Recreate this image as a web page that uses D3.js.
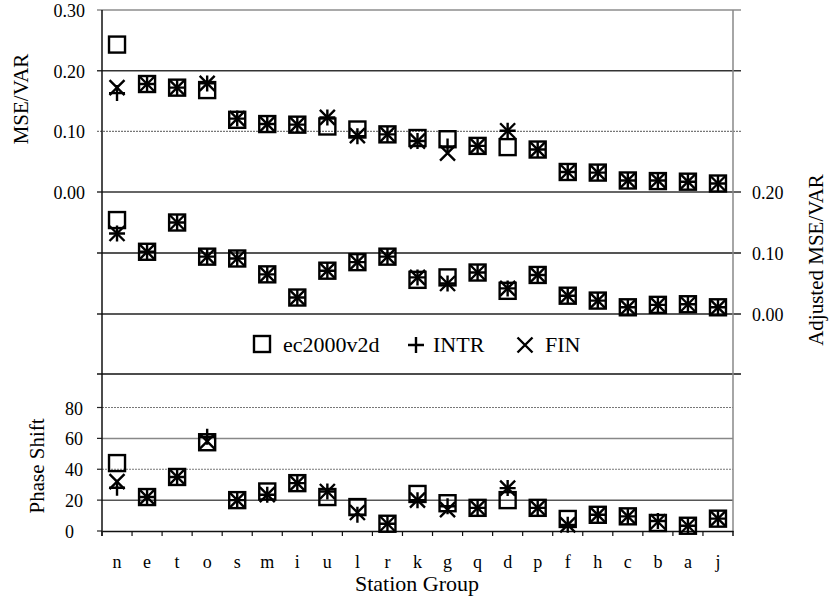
<!DOCTYPE html>
<html><head><meta charset="utf-8">
<script src="https://cdn.jsdelivr.net/npm/d3@7"></script>
<style>
html,body{margin:0;padding:0;background:#fff;}
text{font-family:"Liberation Serif","Times New Roman",serif;fill:#000;}
</style></head>
<body><svg id="c" width="830" height="598"></svg>
<script>
const categories = ["n","e","t","o","s","m","i","u","l","r","k","g","q","d","p","f","h","c","b","a","j"];
const seriesNames = ["ec2000v2d","INTR","FIN"];

const mseEc   = [0.243,0.178,0.172,0.168,0.119,0.112,0.111,0.108,0.103,0.095,0.089,0.087,0.076,0.074,0.070,0.033,0.032,0.019,0.018,0.017,0.014];
const mseIntr = [0.163,0.178,0.172,0.179,0.121,0.112,0.111,0.123,0.092,0.095,0.084,0.075,0.076,0.101,0.070,0.033,0.032,0.019,0.019,0.017,0.014];
const mseFin  = [0.172,0.178,0.172,0.179,0.121,0.112,0.111,0.123,0.093,0.095,0.084,0.064,0.076,0.101,0.070,0.033,0.032,0.019,0.019,0.017,0.014];

const adjEc   = [0.154,0.102,0.150,0.094,0.091,0.065,0.027,0.071,0.085,0.094,0.056,0.060,0.068,0.038,0.064,0.030,0.022,0.011,0.015,0.016,0.011];
const adjIntr = [0.132,0.102,0.150,0.094,0.091,0.065,0.027,0.071,0.085,0.094,0.060,0.050,0.068,0.042,0.064,0.030,0.022,0.011,0.015,0.016,0.011];
const adjFin  = [0.132,0.102,0.150,0.094,0.091,0.065,0.027,0.071,0.085,0.094,0.060,0.050,0.068,0.042,0.064,0.030,0.022,0.011,0.015,0.016,0.011];

const phaseEc   = [44,22,35,57.5,20,25.6,31,22,15.5,4.7,24,18,15,20,15,7.8,10.5,9.5,5.2,3.4,8];
const phaseIntr = [28,22,35,61,20,23.5,31,25.6,10.5,4.7,20,16,15,27.8,15,4,10.5,9.5,6.5,3.4,8];
const phaseFin  = [32,22,35,58,20,23.5,31,25.6,12,4.7,20,13.8,15,27.8,15,4,10.5,9.5,6,3.4,8];

const topTicks = [0.30,0.20,0.10,0.00];
const midTicks = [0.20,0.10,0.00];
const phaseTicks = [0,20,40,60,80];

const svg = d3.select("#c");
const L = 102, R = 733;
const x = d3.scaleBand().domain(categories).range([L, R]);
const yTop = d3.scaleLinear().domain([0, 0.3]).range([192, 10]);
const yMid = d3.scaleLinear().domain([0, 0.2]).range([314, 192]);
const yBot = d3.scaleLinear().domain([0, 80]).range([531, 407.5]);

function hline(y, stroke, w, dash, x0 = 97, x1 = 741) {
  svg.append("line").attr("x1", x0).attr("x2", x1).attr("y1", y).attr("y2", y)
    .attr("stroke", stroke).attr("stroke-width", w).attr("stroke-dasharray", dash || null);
}
hline(yTop(0.3), "#555", 1.2);
hline(yTop(0.2), "#333", 1.5);
hline(yTop(0.1), "#777", 1.2, "2,1");
hline(yTop(0.0), "#333", 1.5);
hline(yMid(0.1), "#555", 2);
hline(yMid(0.0), "#222", 1.5);
hline(yTop(-0.3), "#111", 1.5);
hline(yBot(80), "#777", 1.2, "2,1", 102, 733);
hline(yBot(60), "#888", 1.5, null, 102, 733);
hline(yBot(40), "#777", 1.2, "2,1", 102, 733);
hline(yBot(20), "#555", 1.5, null, 102, 733);
phaseTicks.forEach(v => svg.append("line").attr("x1", 97).attr("x2", L).attr("y1", yBot(v)).attr("y2", yBot(v)).attr("stroke", "#222").attr("stroke-width", 1.2));

svg.append("line").attr("x1", R).attr("x2", R).attr("y1", 10).attr("y2", 536).attr("stroke", "#888").attr("stroke-width", 1.5);
svg.append("line").attr("x1", L).attr("x2", L).attr("y1", 10).attr("y2", 536).attr("stroke", "#111").attr("stroke-width", 1.5);

const xa = svg.append("g").attr("transform", `translate(0,${yBot(0)})`)
  .call(d3.axisBottom(x).tickSize(0).tickPadding(24));
xa.select(".domain").attr("stroke", "#111").attr("stroke-width", 1.5);
xa.selectAll("text").attr("font-size", 18).attr("font-family", "Liberation Serif");
const bounds = categories.map((c) => x(c)).concat([R]);
svg.selectAll(".xt").data(bounds).join("line").attr("class", "xt")
  .attr("x1", d => d).attr("x2", d => d).attr("y1", yBot(0)).attr("y2", yBot(0) + 5)
  .attr("stroke", "#111").attr("stroke-width", 1.2);

svg.selectAll(".lt").data(topTicks).join("text").attr("class", "lt")
  .attr("x", 85).attr("y", d => yTop(d) + 7).attr("text-anchor", "end").attr("font-size", 18)
  .text(d => d3.format(".2f")(d));
svg.selectAll(".pt").data(phaseTicks).join("text").attr("class", "pt")
  .attr("x", 65).attr("y", d => yBot(d) + 7).attr("font-size", 18).text(d => d);
svg.selectAll(".rt").data(midTicks).join("text").attr("class", "rt")
  .attr("x", 752).attr("y", d => yMid(d) + 7).attr("font-size", 18)
  .text(d => d3.format(".2f")(d));

svg.append("text").attr("transform", "translate(28,99) rotate(-90)").attr("text-anchor", "middle").attr("font-size", 21).text("MSE/VAR");
svg.append("text").attr("transform", "translate(44,466) rotate(-90)").attr("text-anchor", "middle").attr("font-size", 21).text("Phase Shift");
svg.append("text").attr("transform", "translate(823,260) rotate(-90)").attr("text-anchor", "middle").attr("font-size", 21).text("Adjusted MSE/VAR");
svg.append("text").attr("x", 417).attr("y", 591).attr("text-anchor", "middle").attr("font-size", 22).text("Station Group");

function sq(g, cx, cy, s = 16) {
  g.append("rect").attr("x", cx - s / 2).attr("y", cy - s / 2).attr("width", s).attr("height", s)
    .attr("fill", "none").attr("stroke", "#000").attr("stroke-width", 2.4);
}
function plus(g, cx, cy, s = 8) {
  g.append("path").attr("d", `M${cx - s},${cy}H${cx + s}M${cx},${cy - s}V${cy + s}`)
    .attr("stroke", "#000").attr("stroke-width", 2.4).attr("fill", "none");
}
function cross(g, cx, cy, s = 7.5) {
  g.append("path").attr("d", `M${cx - s},${cy - s}L${cx + s},${cy + s}M${cx - s},${cy + s}L${cx + s},${cy - s}`)
    .attr("stroke", "#000").attr("stroke-width", 2.4).attr("fill", "none");
}
const panels = [[yTop, mseEc, mseIntr, mseFin], [yMid, adjEc, adjIntr, adjFin], [yBot, phaseEc, phaseIntr, phaseFin]];
const gm = svg.append("g");
panels.forEach(([sc, a, b, c]) => {
  categories.forEach((cat, i) => {
    const cx = x(cat) + x.bandwidth() / 2;
    sq(gm, cx, sc(a[i]));
    plus(gm, cx, sc(b[i]));
    cross(gm, cx, sc(c[i]));
  });
});

const lg = svg.append("g");
sq(lg, 262, 344);
lg.append("text").attr("x", 283).attr("y", 352).attr("font-size", 22).text(seriesNames[0]);
plus(lg, 416, 345);
lg.append("text").attr("x", 433).attr("y", 352).attr("font-size", 22).text(seriesNames[1]);
cross(lg, 525, 345);
lg.append("text").attr("x", 545).attr("y", 352).attr("font-size", 22).text(seriesNames[2]);
</script></body></html>
